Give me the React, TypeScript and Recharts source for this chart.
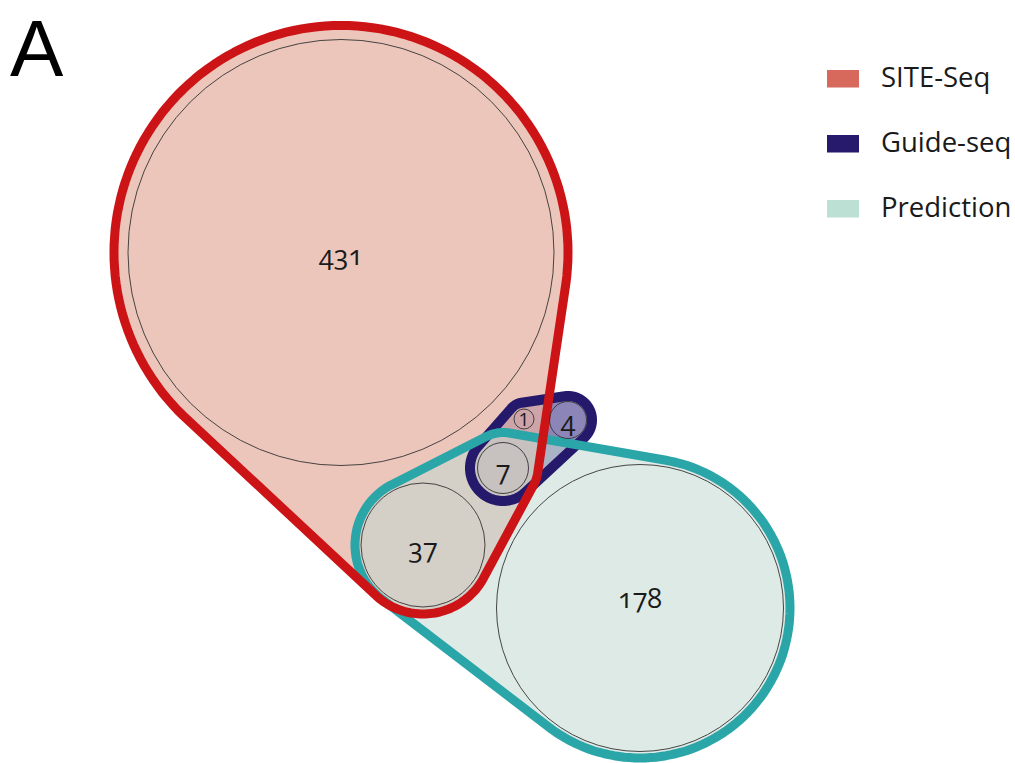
import { ScatterChart, Scatter, XAxis, YAxis } from 'recharts'

const W = 1015
const H = 763

// region counts of the Euler diagram and their circle layout (layout units)
const REGION_COUNTS = [431, 1, 4, 7, 37, 178]
const REGION_X = [341, 524, 568, 503, 423, 640]
const REGION_Y = [252.5, 419, 420, 468, 545, 608]
const REGION_R = [213, 10, 18.5, 25.5, 62, 143.5]
const REGION_LABEL_DY = [2, 0, 0, 1, 2, -11]

// sets and which regions belong to them (index into the arrays above)
const SET_NAMES = ['SITE-Seq', 'Guide-seq', 'Prediction']
const SITE_MEMBERS = [0, 1, 3, 4]
const GUIDE_MEMBERS = [1, 2, 3]
const PRED_MEMBERS = [4, 3, 5]

const SET_MEMBERS = [SITE_MEMBERS, GUIDE_MEMBERS, PRED_MEMBERS]
// outline padding around each member circle
const SET_PAD = [
  [14, 11, 9.5, 7],
  [6.5, 5.5, 7.5],
  [6, 10, 6.5],
]
const SET_STROKE = ['#cc1417', '#25196b', '#2aa5a8']
const SET_STROKE_W = [9, 10, 9]
const SET_FILL = ['#e5b1a2', '#8c86b8', '#c3d9d2']
const SET_FILL_OP = [0.73, 1, 0.55]
const SWATCH = ['#d6695c', '#27196b', '#bde0d4']
// draw order: guide fill, site fill, prediction fill, then strokes
const FILL_ORDER = [1, 0, 2]
const STROKE_ORDER = [1, 2, 0]

const X_MIN = 0
const X_MAX = W
const Y_MIN = 0
const Y_MAX = H
const KX = W / (X_MAX - X_MIN)
const KY = H / (Y_MAX - Y_MIN)

type Pt = [number, number]

function hullPath(circles: { x: number; y: number; r: number }[]) {
  const pts: Pt[] = []
  circles.forEach((c) => {
    for (let i = 0; i < 180; i++) {
      const a = (i / 180) * Math.PI * 2
      pts.push([c.x + c.r * Math.cos(a), c.y + c.r * Math.sin(a)])
    }
  })
  pts.sort((a, b) => a[0] - b[0] || a[1] - b[1])
  const cross = (o: Pt, a: Pt, b: Pt) => (a[0] - o[0]) * (b[1] - o[1]) - (a[1] - o[1]) * (b[0] - o[0])
  const lower: Pt[] = []
  for (const p of pts) {
    while (lower.length >= 2 && cross(lower[lower.length - 2], lower[lower.length - 1], p) <= 0) lower.pop()
    lower.push(p)
  }
  const upper: Pt[] = []
  for (let i = pts.length - 1; i >= 0; i--) {
    const p = pts[i]
    while (upper.length >= 2 && cross(upper[upper.length - 2], upper[upper.length - 1], p) <= 0) upper.pop()
    upper.push(p)
  }
  const hull = lower.slice(0, -1).concat(upper.slice(0, -1))
  return 'M' + hull.map((p) => p[0].toFixed(1) + ',' + p[1].toFixed(1)).join('L') + 'Z'
}

function makeHullShape(setIdx: number, mode: 'fill' | 'stroke') {
  return (props: any) => {
    const { cx, cy, payload } = props
    const circles = SET_MEMBERS[setIdx].map((m, j) => ({
      x: cx + (REGION_X[m] - payload.x) * KX,
      y: cy + (REGION_Y[m] - payload.y) * KY,
      r: (REGION_R[m] + SET_PAD[setIdx][j]) * KX,
    }))
    const d = hullPath(circles)
    if (mode === 'fill') {
      return <path d={d} fill={SET_FILL[setIdx]} fillOpacity={SET_FILL_OP[setIdx]} stroke="none" />
    }
    return (
      <path
        d={d}
        fill="none"
        stroke={SET_STROKE[setIdx]}
        strokeWidth={SET_STROKE_W[setIdx]}
        strokeLinejoin="round"
      />
    )
  }
}

function RegionShape(props: any) {
  const { cx, cy, payload } = props
  const r = payload.r * KX
  const small = payload.r < 15
  return (
    <g>
      <circle cx={cx} cy={cy} r={r} fill="none" stroke="#333" strokeWidth={0.9} />
      <text
        x={cx}
        y={cy + payload.dy}
        textAnchor="middle"
        dominantBaseline="central"
        fontFamily="'Open Sans', sans-serif"
        fontSize={small ? 19 : 27}
        fill="#1a1a1a"
        style={{ fontVariantNumeric: small ? 'lining-nums' : 'oldstyle-nums' }}
      >
        {payload.count}
      </text>
    </g>
  )
}

const regionData = REGION_COUNTS.map((count, i) => ({
  x: REGION_X[i],
  y: REGION_Y[i],
  r: REGION_R[i],
  dy: REGION_LABEL_DY[i],
  count,
}))

const anchorData = SET_MEMBERS.map((members) => [{ x: REGION_X[members[0]], y: REGION_Y[members[0]] }])

export default function App() {
  return (
    <div style={{ position: 'absolute', left: 0, top: 0, width: W, height: H, background: '#fff' }}>
      <ScatterChart width={W} height={H} margin={{ top: 0, right: 0, bottom: 0, left: 0 }}>
        <XAxis type="number" dataKey="x" domain={[X_MIN, X_MAX]} hide />
        <YAxis type="number" dataKey="y" domain={[Y_MIN, Y_MAX]} reversed hide />
        {FILL_ORDER.map((s) => (
          <Scatter
            key={'fill' + s}
            name={SET_NAMES[s]}
            data={anchorData[s]}
            shape={makeHullShape(s, 'fill')}
            isAnimationActive={false}
          />
        ))}
        {STROKE_ORDER.map((s) => (
          <Scatter
            key={'stroke' + s}
            data={anchorData[s]}
            shape={makeHullShape(s, 'stroke')}
            isAnimationActive={false}
          />
        ))}
        <Scatter data={regionData} shape={RegionShape} isAnimationActive={false} />
      </ScatterChart>
      <svg
        width={W}
        height={H}
        style={{ position: 'absolute', left: 0, top: 0, pointerEvents: 'none' }}
        fontFamily="'Open Sans', sans-serif"
      >
        <text x={10} y={76} fontSize={80} fontFamily="'Liberation Sans', Arial, sans-serif" fill="#000">
          A
        </text>
        {SET_NAMES.map((name, i) => (
          <g key={name}>
            <rect x={827} y={70 + i * 65} width={32} height={17.5} fill={SWATCH[i]} />
            <text x={881} y={87 + i * 65} fontSize={27.5} fill="#1a1a1a">
              {name}
            </text>
          </g>
        ))}
      </svg>
    </div>
  )
}
